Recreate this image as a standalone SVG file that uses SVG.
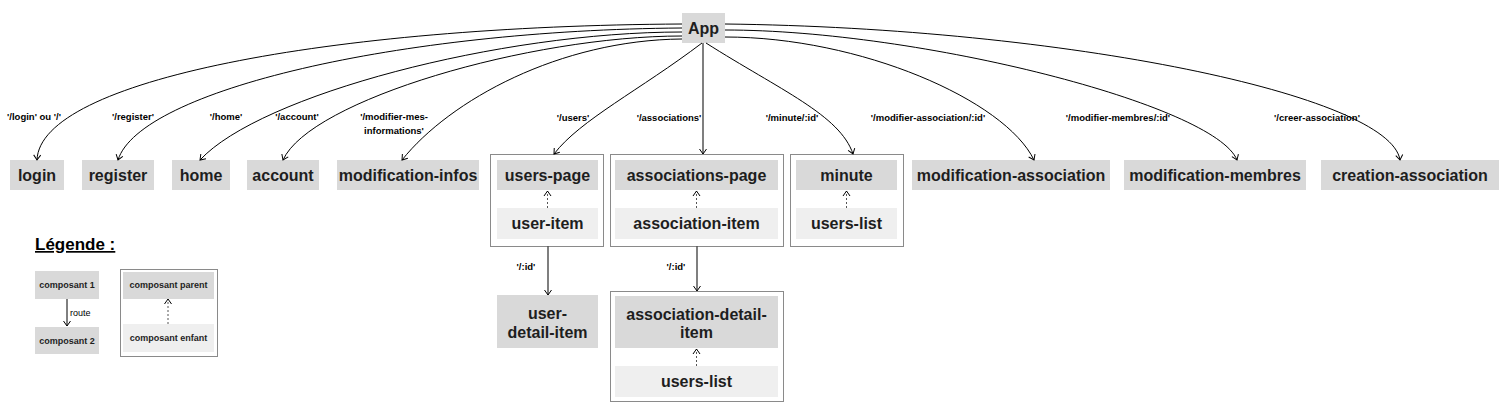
<svg xmlns="http://www.w3.org/2000/svg" width="1509" height="415" viewBox="0 0 1509 415">
<defs>
<style>
.n{fill:#d9d9d9}
.c{fill:#efefef}
.box{fill:none;stroke:#8a8a8a;stroke-width:1}
.t{font-family:"Liberation Sans",Arial,sans-serif;font-weight:bold;font-size:16px;fill:#1e1e1e;text-anchor:middle}
.l{font-family:"Liberation Sans",Arial,sans-serif;font-weight:bold;font-size:9.5px;fill:#000;text-anchor:middle}
.s{font-family:"Liberation Sans",Arial,sans-serif;font-weight:bold;font-size:9px;fill:#1e1e1e;text-anchor:middle}
.e{fill:none;stroke:#000;stroke-width:1;marker-end:url(#arr)}
.g{fill:none;stroke:#555;stroke-width:1.5;marker-end:url(#arr)}
.d{fill:none;stroke:#555;stroke-width:1;stroke-dasharray:2 2;marker-end:url(#arr)}
</style>
<marker id="arr" viewBox="-7 -5 8 10" markerWidth="8" markerHeight="10" refX="0" refY="0" orient="auto" markerUnits="userSpaceOnUse">
<path d="M-5,-3.5 L0,0 L-5,3.5" fill="none" stroke="#000" stroke-width="1"/>
</marker>
</defs>
<rect width="1509" height="415" fill="#fff"/>

<g id="app"><rect class="n" x="682" y="13" width="43" height="30"/><text class="t" x="703.5" y="34">App</text></g>
<g id="login"><rect class="n" x="10" y="160" width="54" height="30"/><text class="t" x="37" y="181">login</text></g>
<g id="register"><rect class="n" x="82" y="160" width="72" height="30"/><text class="t" x="118" y="181">register</text></g>
<g id="home"><rect class="n" x="172" y="160" width="58" height="30"/><text class="t" x="201" y="181">home</text></g>
<g id="account"><rect class="n" x="247" y="160" width="72" height="30"/><text class="t" x="283" y="181">account</text></g>
<g id="modification-infos"><rect class="n" x="337" y="160" width="142" height="30"/><text class="t" x="408" y="181">modification-infos</text></g>

<g id="users-group">
<rect class="box" x="490.5" y="154.5" width="113" height="92"/>
<rect class="n" x="497" y="160" width="101" height="30"/><text class="t" x="547.5" y="181">users-page</text>
<rect class="c" x="497" y="208" width="101" height="31"/><text class="t" x="547.5" y="229">user-item</text>
</g>
<g id="associations-group">
<rect class="box" x="610.5" y="154.5" width="173" height="92"/>
<rect class="n" x="615" y="160" width="163" height="30"/><text class="t" x="696.5" y="181">associations-page</text>
<rect class="c" x="615" y="208" width="163" height="31"/><text class="t" x="696.5" y="229">association-item</text>
</g>
<g id="minute-group">
<rect class="box" x="790.5" y="154.5" width="113" height="92"/>
<rect class="n" x="796" y="160" width="101" height="30"/><text class="t" x="846.5" y="181">minute</text>
<rect class="c" x="796" y="208" width="101" height="31"/><text class="t" x="846.5" y="229">users-list</text>
</g>

<g id="modification-association"><rect class="n" x="912" y="160" width="198" height="30"/><text class="t" x="1011" y="181">modification-association</text></g>
<g id="modification-membres"><rect class="n" x="1124" y="160" width="182" height="30"/><text class="t" x="1215" y="181">modification-membres</text></g>
<g id="creation-association"><rect class="n" x="1321" y="160" width="178" height="30"/><text class="t" x="1410" y="181">creation-association</text></g>

<g id="user-detail-item"><rect class="n" x="497" y="295" width="101" height="53"/><text class="t" x="547.5" y="319">user-</text><text class="t" x="547.5" y="338">detail-item</text></g>
<g id="association-detail-group">
<rect class="box" x="610.5" y="291.5" width="173" height="110"/>
<rect class="n" x="615" y="296" width="163" height="52"/><text class="t" x="696.5" y="320">association-detail-</text><text class="t" x="696.5" y="338">item</text>
<rect class="c" x="615" y="366" width="163" height="31"/><text class="t" x="696.5" y="387">users-list</text>
</g>

<g id="legende">
<text x="35" y="250" font-family="'Liberation Sans',Arial,sans-serif" font-weight="900" font-size="17" fill="#000" text-decoration="underline">Légende :</text>
<rect class="n" x="35" y="271" width="64" height="28"/><text class="s" x="67" y="288">composant 1</text>
<rect class="n" x="35" y="327" width="64" height="27"/><text class="s" x="67" y="344">composant 2</text>
<path d="M67,299 L67,326" fill="none" stroke="#000" stroke-width="1" marker-end="url(#arr)"/>
<text x="70" y="316" font-family="'Liberation Sans',Arial,sans-serif" font-size="9" fill="#000">route</text>
<rect class="box" x="120.5" y="269.5" width="97" height="87"/>
<rect class="n" x="123" y="272" width="91" height="27"/><text class="s" x="168.5" y="288">composant parent</text>
<rect class="c" x="123" y="324" width="91" height="28"/><text class="s" x="168.5" y="341">composant enfant</text>
<path class="d" d="M168,324 L168,299"/>
</g>

<g id="connectors">
<path class="e" d="M682,24 C330,26 40,80 37,160"/>
<path class="e" d="M682,28 C400,30 140,90 118,160"/>
<path class="e" d="M682,32 C500,32 260,95 200,160"/>
<path class="e" d="M682,36 C530,36 310,100 283,160"/>
<path class="e" d="M682,39 C560,40 450,100 402,160"/>
<path class="e" d="M702,43 C640,90 580,120 554,154"/>
<path class="g" d="M703,43 L703,154"/>
<path class="e" d="M706,43 C780,90 840,115 853,154"/>
<path class="e" d="M725,37 C860,37 1005,100 1034,160"/>
<path class="e" d="M725,30 C920,30 1215,105 1237,160"/>
<path class="e" d="M725,24 C1065,28 1390,95 1400,160"/>
<path class="g" d="M548,246 L548,295"/>
<path class="g" d="M697,246 L697,291"/>
<path class="d" d="M547.5,208 L547.5,191"/>
<path class="d" d="M696.5,208 L696.5,191"/>
<path class="d" d="M846.5,208 L846.5,191"/>
<path class="d" d="M696.5,366 L696.5,349"/>
<text class="l" x="34" y="120">'/login' ou '/'</text>
<text class="l" x="133" y="120">'/register'</text>
<text class="l" x="226" y="120">'/home'</text>
<text class="l" x="297" y="120">'/account'</text>
<text class="l" x="394" y="120">'/modifier-mes-</text>
<text class="l" x="394" y="134">informations'</text>
<text class="l" x="573" y="121">'/users'</text>
<text class="l" x="669" y="121">'/associations'</text>
<text class="l" x="792" y="121">'/minute/:id'</text>
<text class="l" x="928" y="121">'/modifier-association/:id'</text>
<text class="l" x="1118" y="121">'/modifier-membres/:id'</text>
<text class="l" x="1317" y="121">'/creer-association'</text>
<text class="l" x="526" y="270">'/:id'</text>
<text class="l" x="676" y="270">'/:id'</text>
</g>
</svg>
